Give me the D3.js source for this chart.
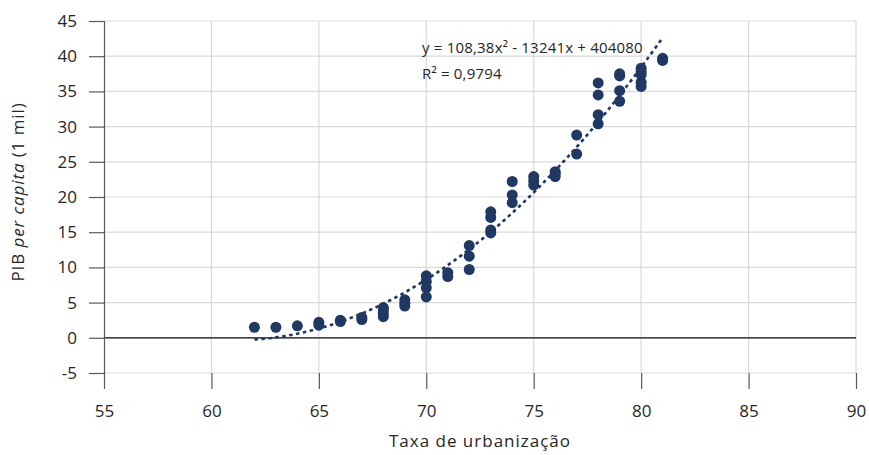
<!DOCTYPE html>
<html>
<head>
<meta charset="utf-8">
<script src="https://cdn.jsdelivr.net/npm/d3@7"></script>
<style>
  html, body { margin: 0; padding: 0; background: #fff; }
  svg text { font-family: "Open Sans", "Noto Sans", sans-serif; }
</style>
</head>
<body>
<svg id="chart" width="869" height="455"></svg>
<script>
// Data: urbanization rate (x) and GDP per capita in thousands (y)
const urbanX = [62, 63, 64, 65, 65, 66, 66, 67, 67, 68, 68, 68, 68, 69, 69, 69,
  70, 70, 70, 70, 71, 71, 72, 72, 72, 73, 73, 73, 73, 74, 74, 74,
  75, 75, 75, 76, 76, 76, 77, 77, 78, 78, 78, 78, 79, 79, 79, 79,
  80, 80, 80, 80, 80, 81, 81];
const pibY = [1.5, 1.5, 1.7, 2.2, 1.8, 2.3, 2.5, 2.6, 2.9, 3.0, 3.5, 4.0, 4.3, 4.5, 4.9, 5.4,
  5.8, 7.1, 8.0, 8.8, 8.7, 9.25, 9.7, 11.6, 13.1, 14.9, 15.3, 17.1, 17.9, 19.2, 20.3, 22.2,
  21.7, 22.3, 22.9, 22.9, 23.3, 23.6, 26.1, 28.8, 30.4, 31.7, 34.5, 36.2, 33.6, 35.1, 37.2, 37.5,
  35.7, 36.3, 37.4, 37.8, 38.3, 39.4, 39.7];
// Trendline coefficients (polynomial, order 2) as printed in the chart
const trendCoef = [108.38, -13241, 404080]; // a, b, c ; result in units -> /1000
const trendRange = [62, 81];
const xTicks = [55, 60, 65, 70, 75, 80, 85, 90];
const yTicks = [-5, 0, 5, 10, 15, 20, 25, 30, 35, 40, 45];
const eqLabels = ["y = 108,38x² - 13241x + 404080", "R² = 0,9794"];

const svg = d3.select("#chart");
const x = d3.scaleLinear().domain([55, 90]).range([104, 856]);
const y = d3.scaleLinear().domain([-5, 45]).range([373, 21]);
const navy = "#1f3864";
const txt = "#262626";

// gridlines
svg.append("g").selectAll("line.h").data(yTicks).join("line")
  .attr("x1", x(55)).attr("x2", x(90))
  .attr("y1", d => y(d)).attr("y2", d => y(d))
  .attr("stroke", "#d9d9d9").attr("stroke-width", 1.2);
svg.append("g").selectAll("line.v").data(xTicks.filter(d => d > 55)).join("line")
  .attr("x1", d => x(d)).attr("x2", d => x(d))
  .attr("y1", y(45)).attr("y2", y(-5))
  .attr("stroke", "#d9d9d9").attr("stroke-width", 1.2);

// zero line
svg.append("line").attr("x1", x(55)).attr("x2", x(90))
  .attr("y1", y(0)).attr("y2", y(0)).attr("stroke", "#111").attr("stroke-width", 1.3);

// y axis
const yAxis = d3.axisLeft(y).tickValues(yTicks).tickSize(15).tickPadding(12)
  .tickFormat(d3.format("d"));
const gy = svg.append("g").attr("transform", `translate(${x(55)},0)`).call(yAxis);
gy.select(".domain").attr("stroke", "#595959").attr("stroke-width", 1.2);
gy.selectAll(".tick line").attr("stroke", "#595959").attr("stroke-width", 1.2);
gy.selectAll(".tick text").attr("font-size", 17).attr("fill", txt)
  .attr("font-family", "'Open Sans', sans-serif").text(d => d < 0 ? "-" + Math.abs(d) : d);

// x axis (ticks drawn below -5 line)
const xAxis = d3.axisBottom(x).tickValues(xTicks).tickSize(16).tickPadding(16)
  .tickFormat(d3.format("d"));
const gx = svg.append("g").attr("transform", `translate(0,${y(-5)})`).call(xAxis);
gx.select(".domain").remove();
gx.selectAll(".tick line").attr("stroke", "#595959").attr("stroke-width", 1.2);
gx.selectAll(".tick text").attr("font-size", 17).attr("fill", txt)
  .attr("font-family", "'Open Sans', sans-serif");

// points
svg.append("g").selectAll("circle").data(urbanX.map((d, i) => [d, pibY[i]])).join("circle")
  .attr("cx", d => x(d[0])).attr("cy", d => y(d[1])).attr("r", 5.5)
  .attr("fill", navy);

// trendline
const trendPts = d3.range(trendRange[0], trendRange[1] + 0.001, 0.1).map(t =>
  [t, (trendCoef[0] * t * t + trendCoef[1] * t + trendCoef[2]) / 1000]);
svg.append("path").datum(trendPts)
  .attr("d", d3.line().x(d => x(d[0])).y(d => y(d[1])))
  .attr("fill", "none").attr("stroke", navy).attr("stroke-width", 2.6)
  .attr("stroke-dasharray", "3.5 3.5");

// equation text
const eq = svg.append("g").attr("font-size", 15).attr("fill", txt).attr("letter-spacing", 0.2);
eq.append("text").attr("x", 422).attr("y", 53).text(eqLabels[0]);
eq.append("text").attr("x", 422).attr("y", 79).text(eqLabels[1]);

// axis titles
svg.append("text").attr("x", x(72.5)).attr("y", 447).attr("text-anchor", "middle")
  .attr("font-size", 17).attr("fill", txt).attr("letter-spacing", 1)
  .text("Taxa de urbanização");
const yt = svg.append("text").attr("transform", "translate(24,192) rotate(-90)")
  .attr("text-anchor", "middle").attr("font-size", 17).attr("fill", txt).attr("letter-spacing", 0.9);
yt.append("tspan").text("PIB ");
yt.append("tspan").attr("font-style", "italic").text("per capita");
yt.append("tspan").text(" (1 mil)");
</script>
</body>
</html>
